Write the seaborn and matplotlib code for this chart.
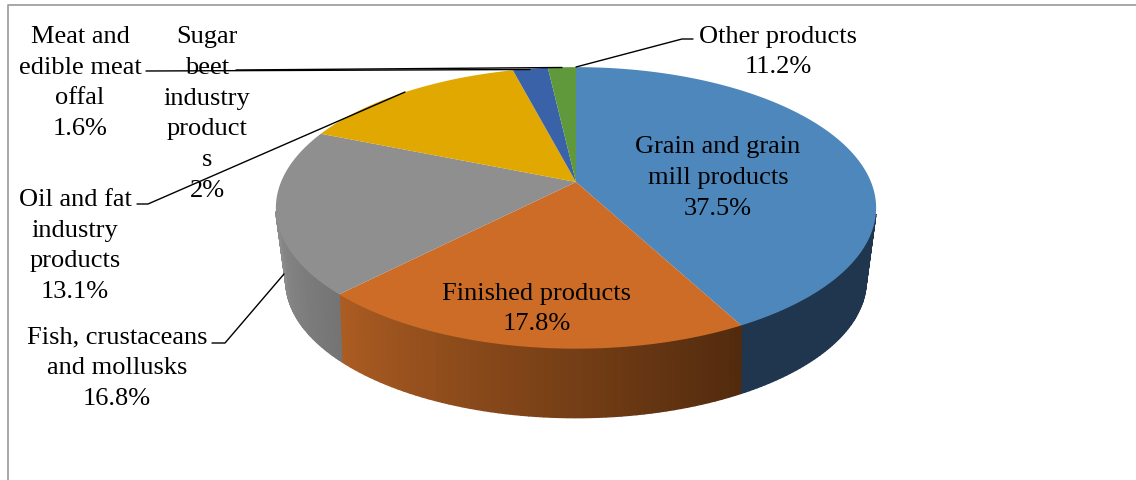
import numpy as np
import matplotlib
matplotlib.use('Agg')
import matplotlib.pyplot as plt
import seaborn as sns

# label order follows the pie, clockwise from the top
categories = ['Grain and grain\nmill products', 'Finished products', 'Fish, crustaceans\nand mollusks',
              'Oil and fat\nindustry\nproducts', 'Sugar\nbeet\nindustry\nproduct\ns',
              'Meat and\nedible meat\noffal', 'Other products']
shares = [37.5, 17.8, 16.8, 13.1, 2, 1.6, 11.2]
share_text = ['37.5%', '17.8%', '16.8%', '13.1%', '2%', '1.6%', '11.2%']

# "Other products" only has a label in the picture, no slice of its own
drawn_shares = shares[:-1]
top_colors = ['#4d87bb', '#cc6c27', '#8f8f8f', '#e0a800', '#3a62a8', '#5f993b']
# wall shade at the start and at the end of each slice
wall_colors = [('#1f364e', '#1f364e'), ('#522b0e', '#ab5c22'), ('#747474', '#8c8c8c'),
               None, None, None]

sns.set_theme(style='white')
plt.rcParams['font.family'] = ['Liberation Serif', 'DejaVu Serif']

fig = plt.figure(figsize=(11.36, 4.81), dpi=100)
ax = fig.add_axes([0, 0, 1, 1])
ax.set_xlim(0, 1136)
ax.set_ylim(481, 0)
ax.axis('off')


# perspective view of the pie: angle is clockwise from the top, in degrees
def top_rim(deg):
    t = np.radians(deg)
    d = 1 + 0.184 * np.cos(t)
    return 576 + 295 * np.sin(t) / d, 183 - 136 * np.cos(t) / d


def bottom_rim(deg):
    t = np.radians(deg)
    d = 1 + 0.22 * np.cos(t)
    return 576 + 283 * np.sin(t) / d, 252 - 130 * np.cos(t) / d


ends = np.cumsum(drawn_shares) / sum(drawn_shares) * 360
starts = np.r_[0, ends[:-1]]

# side walls first, cut in thin strips for the shading
for start, end, shade in zip(starts, ends, wall_colors):
    if shade is None:
        continue
    a = max(start, 103)
    b = min(end, 258)
    steps = np.linspace(a, b, 60)
    palette = sns.blend_palette(list(shade), 59)
    for i in range(59):
        tx, ty = top_rim(steps[i:i + 2])
        bx, by = bottom_rim(steps[i:i + 2])
        ax.fill(np.r_[tx, bx[::-1]], np.r_[ty, by[::-1]], facecolor=palette[i],
                edgecolor=palette[i], lw=1.0, zorder=1)

# top face
for start, end, color in zip(starts, ends, top_colors):
    rx, ry = top_rim(np.linspace(start, end, 120))
    ax.fill(np.r_[576, rx], np.r_[183, ry], color=color, lw=0, zorder=2)

# frame of the chart area
ax.plot([8, 8, 1136], [481, 5.5, 5.5], color='#a0a0a0', lw=1.3, zorder=0)

# leader lines
leaders = [([146, 530], [72, 70.5]),
           ([236, 562], [71, 68.5]),
           ([137, 148, 405], [205, 205, 93]),
           ([212, 225, 284], [344, 344, 275]),
           ([693, 682, 576], [40, 40, 68])]
for lx, ly in leaders:
    ax.plot(lx, ly, color='black', lw=1, zorder=4)

# label centres
label_xy = [(718, 178), (537, 309), (117, 368), (75, 246), (207, 114), (80, 83), (778, 52)]
for name, pct, (x, y) in zip(categories, share_text, label_xy):
    ax.text(x, y, name + '\n' + pct, ha='center', va='center', fontsize=19, linespacing=1.51,
            color='black', zorder=3)

fig.savefig('out.png', dpi=100)
